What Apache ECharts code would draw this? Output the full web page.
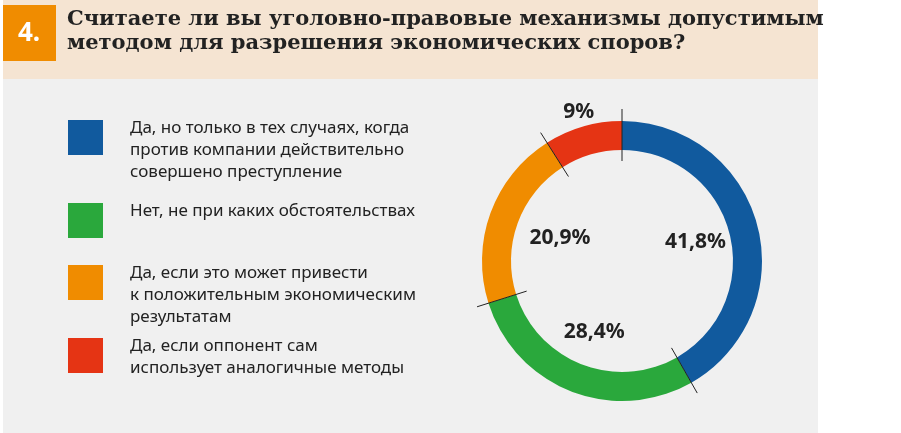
<!DOCTYPE html>
<html>
<head>
<meta charset="utf-8">
<script src="https://cdn.jsdelivr.net/npm/echarts@6/dist/echarts.min.js"></script>
<style>
html, body { margin: 0; padding: 0; background: #fff; }
#chart { width: 901px; height: 433px; }
</style>
</head>
<body>
<div id="chart"></div>
<script>
var titleLines = ['Считаете ли вы уголовно-правовые механизмы допустимым', 'методом для разрешения экономических споров?'];
var categories = [
	'Да, но только в тех случаях, когда\nпротив компании действительно\nсовершено преступление',
	'Нет, не при каких обстоятельствах',
	'Да, если это может привести\nк положительным экономическим\nрезультатам',
	'Да, если оппонент сам\nиспользует аналогичные методы'
];
var values = [41.8, 28.4, 20.9, 9];
var valueLabels = ['41,8%', '28,4%', '20,9%', '9%'];
var colors = ['#115a9e', '#2aa83c', '#f08c00', '#e53414'];

var cx = 622, cy = 261;
var myChart = echarts.init(document.getElementById('chart'));

var graphics = [
	{ type: 'rect', shape: { x: 3, y: 0, width: 815, height: 433 }, style: { fill: '#f0f0f0' }, silent: true, z: -10 },
	{ type: 'rect', shape: { x: 3, y: 0, width: 815, height: 79 }, style: { fill: '#f5e4d2' }, z: -5 },
	{ type: 'rect', shape: { x: 3, y: 5, width: 53, height: 56 }, style: { fill: '#f08c00' } },
	{ type: 'text', style: { text: '4.', x: 29, y: 34, fill: '#fff', font: 'bold 26px "Noto Sans"', textAlign: 'center', textVerticalAlign: 'middle' } },
	{ type: 'text', style: { text: titleLines.join('\n'), x: 67, y: 8, fill: '#222', font: 'bold 21px "DejaVu Serif"', lineHeight: 24 } }
];

// legend
var legendY = [120, 203, 265, 338];
categories.forEach(function (c, i) {
	graphics.push({ type: 'rect', shape: { x: 68, y: legendY[i], width: 35, height: 35 }, style: { fill: colors[i] } });
	graphics.push({ type: 'text', style: { text: c, x: 130, y: legendY[i] - 3, fill: '#222', font: '17px "Noto Sans"', lineHeight: 22 } });
});

// separators and labels from the data
var total = values.reduce(function (a, b) { return a + b; }, 0);
var acc = 0;
values.forEach(function (v, i) {
	var a0 = acc / total * Math.PI * 2;
	graphics.push({ type: 'line', shape: {
		x1: cx + Math.sin(a0) * 100, y1: cy - Math.cos(a0) * 100,
		x2: cx + Math.sin(a0) * 152, y2: cy - Math.cos(a0) * 152
	}, style: { stroke: '#222', lineWidth: 1 }, z: 10 });
	var am = (acc + v / 2) / total * Math.PI * 2;
	var r = v < 12 ? 155 : (i == 2 ? 66 : 76);
	graphics.push({ type: 'text', style: {
		text: valueLabels[i], x: cx + Math.sin(am) * r, y: cy - Math.cos(am) * r,
		fill: '#222', font: 'bold 21px "Noto Sans"', textAlign: 'center', textVerticalAlign: 'middle'
	}, z: 10 });
	acc += v;
});

var option = {
	animation: false,
	graphic: graphics,
	series: [{
		type: 'pie',
		center: [cx, cy],
		radius: [111, 140],
		startAngle: 90,
		clockwise: true,
		label: { show: false },
		labelLine: { show: false },
		silent: true,
		data: values.map(function (v, i) {
			return { value: v, name: categories[i], itemStyle: { color: colors[i] } };
		})
	}]
};
myChart.setOption(option);
</script>
</body>
</html>
